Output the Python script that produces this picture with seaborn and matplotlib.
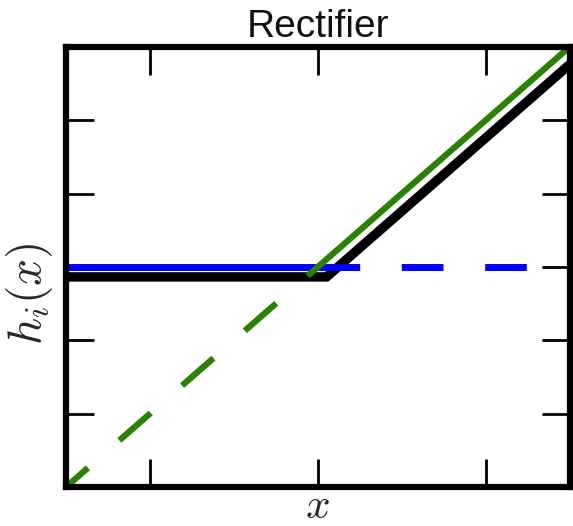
import matplotlib
matplotlib.use("Agg")
import matplotlib.pyplot as plt
import seaborn as sns
import pandas as pd

# ---- data ----
title = "Rectifier"
x_label = "$x$"
y_label = "$h_i(x)$"

rect_x = [-1.0, 0.035, 1.0]          # black rectifier curve (offset for visibility)
rect_y = [-0.045, -0.045, 0.92]

const_solid_x = [-1.0, 0.0]          # blue h = 0, solid part
const_solid_y = [0.0, 0.0]
const_dash_x = [0.0, 1.0]            # blue h = 0, dashed part
const_dash_y = [0.0, 0.0]

lin_solid_x = [0.0, 1.0]             # green h = x, solid part
lin_solid_y = [0.0, 1.0]
lin_dash_x = [-1.0, 0.0]             # green h = x, dashed part
lin_dash_y = [-1.0, 0.0]

x_ticks = [-2/3, 0.0, 2/3]
y_ticks = [-2/3, -1/3, 0.0, 1/3, 2/3]

# ---- style ----
sns.set_style("ticks")
plt.rcParams["mathtext.fontset"] = "cm"
plt.rcParams["lines.scale_dashes"] = False
plt.rcParams["font.family"] = ["Liberation Sans", "DejaVu Sans"]

W, H = 573, 526
fig = plt.figure(figsize=(W / 100, H / 100), dpi=100)
ax = fig.add_axes([66 / W, 1 - 487 / H, (569.5 - 66) / W, (487 - 47) / H])

black = "#000000"
blue = "#0000ff"
green = "#2b8200"

sns.lineplot(x=rect_x, y=rect_y, ax=ax, color=black, linewidth=6.8,
             solid_joinstyle="miter", solid_capstyle="butt", sort=False, zorder=2)
sns.lineplot(x=const_solid_x, y=const_solid_y, ax=ax, color=blue, linewidth=5,
             solid_capstyle="butt", sort=False, zorder=2.1)
sns.lineplot(x=const_dash_x, y=const_dash_y, ax=ax, color=blue, linewidth=5,
             linestyle=(0, (30, 30)), dash_capstyle="butt", sort=False, zorder=2.1)
sns.lineplot(x=lin_dash_x, y=lin_dash_y, ax=ax, color=green, linewidth=4.5,
             linestyle=(9, (30, 30)), dash_capstyle="butt", sort=False, zorder=2.2)
sns.lineplot(x=lin_solid_x, y=lin_solid_y, ax=ax, color=green, linewidth=4.5,
             solid_capstyle="butt", sort=False, zorder=2.2)

ax.set_xlim(-1, 1)
ax.set_ylim(-1, 1)
ax.set_xticks(x_ticks)
ax.set_yticks(y_ticks)
ax.set_xticklabels([])
ax.set_yticklabels([])
ax.tick_params(direction="in", length=20, width=2, color="black",
               top=True, right=True, bottom=True, left=True)
for s in ax.spines.values():
    s.set_visible(True)
    s.set_linewidth(4.5)
    s.set_color("black")

ax.set_title(title, fontsize=28, pad=7, color="#111111")
ax.set_xlabel(x_label, fontsize=31)
ax.set_ylabel(y_label, fontsize=34)
ax.xaxis.set_label_coords(0.5, 0.0)
ax.yaxis.set_label_coords(-0.022, 0.44)

fig.savefig("out.png", dpi=100)
